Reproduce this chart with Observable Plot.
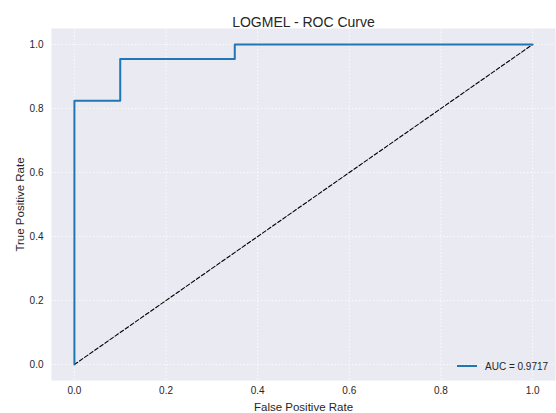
<!DOCTYPE html>
<html>
<head>
<meta charset="utf-8">
<script src="https://cdn.jsdelivr.net/npm/d3@7"></script>
<script src="https://cdn.jsdelivr.net/npm/@observablehq/plot@0.6"></script>
<style>
  html, body { margin: 0; padding: 0; background: #fff; }
  #chart svg { display: block; }
</style>
</head>
<body>
<div id="chart"></div>
<script>
// ROC curve points (false positive rate, true positive rate)
const fpr = [0, 0, 0.1, 0.1, 0.35, 0.35, 1];
const tpr = [0, 0.824, 0.824, 0.955, 0.955, 1, 1];
// chance diagonal
const chanceX = [0, 1];
const chanceY = [0, 1];
const ticks = [0, 0.2, 0.4, 0.6, 0.8, 1.0];
const title = "LOGMEL - ROC Curve";
const aucLabel = "AUC = 0.9717";

const roc = fpr.map((x, i) => ({x, y: tpr[i]}));
const chance = chanceX.map((x, i) => ({x, y: chanceY[i]}));

const font = "'Liberation Sans', Arial, sans-serif";
const ink = "#262626";
const blue = "#1f77b4";

// small legend box at the lower right of the panel
function legend(index, scales, values, dims) {
  const right = dims.width - dims.marginRight;
  const bottom = dims.height - dims.marginBottom;
  const g = d3.create("svg:g");
  g.append("line")
    .attr("x1", right - 98).attr("x2", right - 78)
    .attr("y1", bottom - 14).attr("y2", bottom - 14)
    .attr("stroke", blue).attr("stroke-width", 2);
  g.append("text")
    .attr("x", right - 70).attr("y", bottom - 14)
    .attr("dy", "0.35em")
    .attr("text-anchor", "start")
    .attr("fill", ink)
    .attr("font-size", 10)
    .attr("font-family", font)
    .text(aucLabel);
  return g.node();
}

const chart = Plot.plot({
  width: 556,
  height: 413,
  marginLeft: 51,
  marginRight: 1,
  marginTop: 28,
  marginBottom: 33,
  style: {fontFamily: font, fontSize: "10px", color: ink, background: "white"},
  x: {domain: [-0.05, 1.05], ticks, tickFormat: d3.format(".1f"), tickSize: 0, tickPadding: 6,
      label: "False Positive Rate", labelAnchor: "center", labelArrow: "none", labelOffset: 30},
  y: {domain: [-0.05, 1.05], ticks, tickFormat: d3.format(".1f"), tickSize: 0, tickPadding: 8,
      label: "True Positive Rate", labelAnchor: "center", labelArrow: "none", labelOffset: 36},
  marks: [
    Plot.frame({fill: "#EAEAF2", stroke: null}),
    Plot.gridX(ticks, {stroke: "white", strokeOpacity: 1, strokeWidth: 0.8, strokeDasharray: "1.5,2"}),
    Plot.gridY(ticks, {stroke: "white", strokeOpacity: 1, strokeWidth: 0.8, strokeDasharray: "1.5,2"}),
    Plot.line(chance, {x: "x", y: "y", stroke: "black", strokeWidth: 1.1, strokeDasharray: "4,2.2"}),
    Plot.line(roc, {x: "x", y: "y", stroke: blue, strokeWidth: 2}),
    Plot.text([title], {frameAnchor: "top", dy: -11, fontSize: 14, fill: ink}),
    legend
  ]
});

// axis titles slightly larger than tick labels
d3.select(chart).selectAll("[aria-label$='axis label'] text").attr("font-size", 11.5);

document.getElementById("chart").append(chart);
</script>
</body>
</html>
